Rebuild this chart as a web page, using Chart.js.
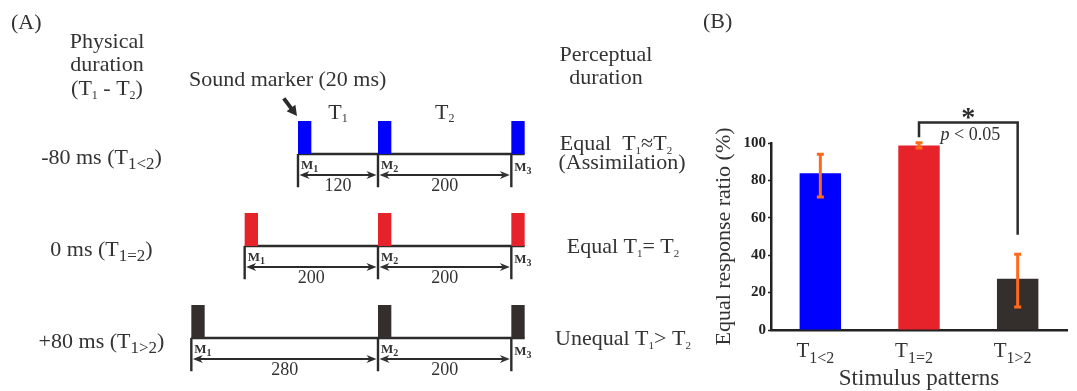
<!DOCTYPE html>
<html><head><meta charset="utf-8">
<script src="https://cdn.jsdelivr.net/npm/chart.js@4.4.1/dist/chart.umd.min.js"></script>
<style>
html,body{margin:0;padding:0;background:#fff;}
#wrap{position:relative;width:1077px;height:391px;overflow:hidden;background:#fff;}
#ca{position:absolute;left:0;top:0;}
#cb{position:absolute;left:700px;top:0;}
</style></head><body>
<div id="wrap"><canvas id="ca" width="700" height="391"></canvas><canvas id="cb" width="377" height="391"></canvas></div>
<script>
// ---------- Panel A data ----------
const physicalLabels = ['-80 ms (T_{1<2})', '0 ms (T_{1=2})', '+80 ms (T_{1>2})'];
const perceptualLabels = [['Equal  T_{1}≈T_{2}', '(Assimilation)'], ['Equal T_{1}= T_{2}'], ['Unequal T_{1}> T_{2}']];
const t1Durations = [120, 200, 280];
const t2Durations = [200, 200, 200];
const markerMs = 20;
const markerColors = ['#0000ff', '#e6232b', '#342e2c'];
const markerNames = ['M_{1}', 'M_{2}', 'M_{3}'];

// ---------- Panel B data ----------
const patterns = ['T_{1<2}', 'T_{1=2}', 'T_{1>2}'];
const ratio = [83.8, 98.6, 27.4];
const errLow = [71.1, 97.3, 12.3];
const errHigh = [94.0, 100.1, 40.5];
const yTicks = [0, 20, 40, 60, 80, 100];
const barColors = ['#0000ff', '#e6232b', '#342e2c'];

const FAM = "'Liberation Serif','Times New Roman',serif";
const TXT = '#333';

function parseRich(s) {
  const parts = []; const re = /_\{([^}]*)\}/g; let last = 0, m;
  while ((m = re.exec(s))) {
    if (m.index > last) parts.push({t: s.slice(last, m.index), sub: false});
    parts.push({t: m[1], sub: true}); last = re.lastIndex;
  }
  if (last < s.length) parts.push({t: s.slice(last), sub: false});
  return parts;
}
function drawRich(ctx, s, x, y, o) {
  const parts = parseRich(s);
  const fontFor = p => `${o.style || ''} ${o.weight || ''} ${p.sub ? o.sub : o.size}px ${FAM}`;
  let w = 0;
  parts.forEach(p => { ctx.font = fontFor(p); p.w = ctx.measureText(p.t).width; w += p.w; });
  let cx = o.align === 'center' ? x - w / 2 : (o.align === 'right' ? x - w : x);
  ctx.fillStyle = o.color || TXT; ctx.textBaseline = 'alphabetic'; ctx.textAlign = 'left';
  parts.forEach(p => { ctx.font = fontFor(p); ctx.fillText(p.t, cx, y + (p.sub ? o.dy : 0)); cx += p.w; });
}
function arrowHead(ctx, x, y, dir, len, hw) {
  ctx.beginPath(); ctx.moveTo(x, y); ctx.lineTo(x - dir * len, y - hw); ctx.lineTo(x - dir * len * 0.7, y); ctx.lineTo(x - dir * len, y + hw); ctx.closePath(); ctx.fill();
}

// ---------- Panel A chart (timeline in ms, rows on y) ----------
const tickDrop = 0.36;
const lineDatasets = [];
t1Durations.forEach((t1, r) => {
  lineDatasets.push({data: [{x: -t1, y: r}, {x: t2Durations[r] + markerMs, y: r}], borderColor: '#2b2b2b', borderWidth: 2.6});
  [-t1, 0, t2Durations[r]].forEach(t => {
    lineDatasets.push({data: [{x: t, y: r}, {x: t, y: r + tickDrop}], borderColor: '#2b2b2b', borderWidth: 2.4});
  });
});

const diagramPlugin = {
  id: 'diagram',
  afterDatasetsDraw(chart) {
    const ctx = chart.ctx, xs = chart.scales.x, ys = chart.scales.y;
    ctx.save();
    ctx.fillStyle = TXT;
    drawRich(ctx, '(A)', 11, 29, {size: 22, align: 'left'});
    drawRich(ctx, 'Physical', 107, 48, {size: 22, align: 'center'});
    drawRich(ctx, 'duration', 107, 71, {size: 22, align: 'center'});
    drawRich(ctx, '(T_{1} - T_{2})', 107, 95, {size: 22, sub: 12, dy: 4, align: 'center'});
    drawRich(ctx, 'Perceptual', 606, 61, {size: 22, align: 'center'});
    drawRich(ctx, 'duration', 606, 84, {size: 22, align: 'center'});
    drawRich(ctx, 'Sound marker (20 ms)', 189, 86, {size: 22, align: 'left'});

    t1Durations.forEach((t1, r) => {
      const L = ys.getPixelForValue(r);
      const times = [-t1, 0, t2Durations[r]];
      const px = times.map(t => xs.getPixelForValue(t));
      ctx.fillStyle = markerColors[r];
      times.forEach(t => {
        const a = xs.getPixelForValue(t), b = xs.getPixelForValue(t + markerMs);
        ctx.fillRect(a, L - 33, b - a, 33);
      });
      ctx.strokeStyle = '#2b2b2b'; ctx.fillStyle = '#2b2b2b'; ctx.lineWidth = 2;
      const ay = L + 21;
      for (let k = 0; k < 2; k++) {
        const x0 = px[k] + 1.5, x1 = px[k + 1] - 1.5;
        ctx.beginPath(); ctx.moveTo(x0 + 4, ay); ctx.lineTo(x1 - 4, ay); ctx.stroke();
        arrowHead(ctx, x0, ay, -1, 10, 4); arrowHead(ctx, x1, ay, 1, 10, 4);
        drawRich(ctx, String(k === 0 ? t1 : t2Durations[r]), (px[k] + px[k + 1]) / 2, L + 37, {size: 18, align: 'center'});
      }
      markerNames.forEach((mName, k) => {
        drawRich(ctx, mName, px[k] + 3, L + (k === 2 ? 17 : 15), {size: 13, sub: 10, dy: 3, weight: 'bold', align: 'left'});
      });
      drawRich(ctx, physicalLabels[r], 101.5, L + 9.5, {size: 22, sub: 17, dy: 5, align: 'center'});
      const pl = perceptualLabels[r];
      if (pl.length === 2) {
        drawRich(ctx, pl[0], 616, L - 4, {size: 22, sub: 11, dy: 4, align: 'center'});
        drawRich(ctx, pl[1], 622, L + 15, {size: 22, sub: 11, dy: 4, align: 'center'});
      } else {
        drawRich(ctx, pl[0], 623, L + 7, {size: 22, sub: 11, dy: 4, align: 'center'});
      }
      if (r === 0) {
        drawRich(ctx, 'T_{1}', (px[0] + px[1]) / 2, L - 35, {size: 22, sub: 12, dy: 3, align: 'center'});
        drawRich(ctx, 'T_{2}', (px[1] + px[2]) / 2, L - 35, {size: 22, sub: 12, dy: 3, align: 'center'});
        const tipX = px[0] - 1, tipY = L - 38;
        const ux = 0.6, uy = 0.8;
        ctx.strokeStyle = '#2b2b2b'; ctx.fillStyle = '#2b2b2b'; ctx.lineWidth = 4;
        ctx.beginPath(); ctx.moveTo(tipX - ux * 22, tipY - uy * 22); ctx.lineTo(tipX - ux * 7, tipY - uy * 7); ctx.stroke();
        ctx.beginPath();
        ctx.moveTo(tipX, tipY);
        ctx.lineTo(tipX - ux * 10 + uy * 5.5, tipY - uy * 10 - ux * 5.5);
        ctx.lineTo(tipX - ux * 10 - uy * 5.5, tipY - uy * 10 + ux * 5.5);
        ctx.closePath(); ctx.fill();
      }
    });
    ctx.restore();
  }
};

new Chart(document.getElementById('ca'), {
  type: 'line',
  data: {datasets: lineDatasets},
  options: {
    responsive: false, animation: false, events: [],
    layout: {padding: 0},
    elements: {point: {radius: 0}, line: {borderCapStyle: 'butt'}},
    plugins: {legend: {display: false}, tooltip: {enabled: false}},
    scales: {
      x: {type: 'linear', display: false, min: -567, max: 483},
      y: {type: 'linear', display: false, min: -1.674, max: 2.576, reverse: true}
    }
  },
  plugins: [diagramPlugin]
});

// ---------- Panel B chart ----------
const errPlugin = {
  id: 'errs',
  afterDatasetsDraw(chart) {
    const ctx = chart.ctx, xs = chart.scales.x, ys = chart.scales.y;
    ctx.save();
    ctx.strokeStyle = '#ff6a1a'; ctx.lineWidth = 3;
    ratio.forEach((v, i) => {
      const x = xs.getPixelForValue(i), yl = ys.getPixelForValue(errLow[i]), yh = ys.getPixelForValue(errHigh[i]);
      ctx.beginPath(); ctx.moveTo(x, yl); ctx.lineTo(x, yh);
      ctx.moveTo(x - 3.5, yl); ctx.lineTo(x + 3.5, yl);
      ctx.moveTo(x - 3.5, yh); ctx.lineTo(x + 3.5, yh); ctx.stroke();
    });
    const x1 = xs.getPixelForValue(1), x2 = xs.getPixelForValue(2);
    const top = ys.getPixelForValue(111);
    ctx.strokeStyle = '#2b2b2b'; ctx.lineWidth = 2.5; ctx.lineJoin = 'miter';
    ctx.beginPath();
    ctx.moveTo(x1, ys.getPixelForValue(errHigh[1] + 3));
    ctx.lineTo(x1, top); ctx.lineTo(x2, top);
    ctx.lineTo(x2, ys.getPixelForValue(errHigh[2] + 10.5));
    ctx.stroke();
    const mid = (x1 + x2) / 2;
    ctx.fillStyle = '#2b2b2b'; ctx.font = `bold 28px ${FAM}`; ctx.textAlign = 'center'; ctx.textBaseline = 'alphabetic';
    ctx.fillText('*', mid, top + 4);
    ctx.font = `italic 18px ${FAM}`;
    const wp = ctx.measureText('p').width;
    ctx.font = `18px ${FAM}`;
    const wr = ctx.measureText(' < 0.05').width;
    let sx = mid + 2 - (wp + wr) / 2;
    ctx.textAlign = 'left'; ctx.fillStyle = TXT;
    ctx.font = `italic 18px ${FAM}`; ctx.fillText('p', sx, top + 18);
    ctx.font = `18px ${FAM}`; ctx.fillText(' < 0.05', sx + wp, top + 18);
    patterns.forEach((p, i) => {
      drawRich(ctx, p, xs.getPixelForValue(i) - 5, 357, {size: 21, sub: 16, dy: 6, align: 'center'});
    });
    drawRich(ctx, 'Stimulus patterns', (chart.chartArea.left + chart.chartArea.right) / 2, 385, {size: 23, align: 'center'});
    drawRich(ctx, '(B)', 3, 28, {size: 22, align: 'left'});
    ctx.restore();
  }
};

new Chart(document.getElementById('cb'), {
  type: 'bar',
  data: {labels: patterns, datasets: [{data: ratio, backgroundColor: barColors, borderWidth: 0, barPercentage: 0.42, categoryPercentage: 1}]},
  options: {
    responsive: false, animation: false, events: [],
    layout: {padding: {top: 143, right: 10, bottom: 61, left: 0}},
    plugins: {legend: {display: false}, tooltip: {enabled: false}},
    scales: {
      x: {
        grid: {display: false, drawTicks: false}, ticks: {display: false},
        border: {display: true, color: '#222', width: 2.5},
        afterFit(s) { s.height = 0; }
      },
      y: {
        min: 0, max: 100,
        afterBuildTicks(s) { s.ticks = yTicks.map(v => ({value: v})); },
        ticks: {font: {family: FAM, size: 15, weight: 'bold'}, color: '#222', padding: 2},
        grid: {drawOnChartArea: false, tickLength: 3, color: '#222', tickWidth: 1.5},
        border: {color: '#222', width: 2.5},
        title: {display: true, text: 'Equal response ratio (%)', font: {family: FAM, size: 22}, color: TXT, padding: {top: 11, bottom: 0}},
        afterFit(s) { s.width = 71; }
      }
    }
  },
  plugins: [errPlugin]
});
</script>
</body></html>
